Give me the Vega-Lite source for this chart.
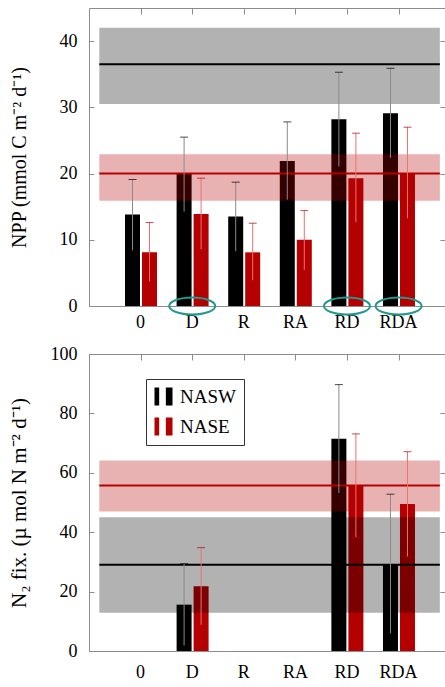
{
  "$schema": "https://vega.github.io/schema/vega-lite/v6.json",
  "padding": {"left": 7, "top": 7, "right": 0, "bottom": 0},
  "spacing": 12,
  "config": {
    "font": "Liberation Serif",
    "view": {"stroke": "#8c8c8c", "strokeWidth": 1},
    "axis": {"labelFont": "Liberation Serif", "titleFont": "Liberation Serif", "labelFontSize": 18, "titleFontSize": 20, "labelColor": "#000", "titleColor": "#000", "titleFontWeight": "normal", "grid": false, "domain": false, "tickColor": "#8c8c8c"}
  },
  "datasets": {
    "npp": [
      {"cat": "0", "site": "NASW", "mean": 13.8, "lo": 8.35, "hi": 19.1},
      {"cat": "0", "site": "NASE", "mean": 8.1, "lo": 3.65, "hi": 12.6},
      {"cat": "D", "site": "NASW", "mean": 19.95, "lo": 14.2, "hi": 25.5},
      {"cat": "D", "site": "NASE", "mean": 13.9, "lo": 8.5, "hi": 19.3},
      {"cat": "R", "site": "NASW", "mean": 13.5, "lo": 8.2, "hi": 18.7},
      {"cat": "R", "site": "NASE", "mean": 8.1, "lo": 3.85, "hi": 12.5},
      {"cat": "RA", "site": "NASW", "mean": 21.9, "lo": 16.0, "hi": 27.8},
      {"cat": "RA", "site": "NASE", "mean": 10.0, "lo": 5.4, "hi": 14.4},
      {"cat": "RD", "site": "NASW", "mean": 28.2, "lo": 21.0, "hi": 35.3},
      {"cat": "RD", "site": "NASE", "mean": 19.3, "lo": 12.6, "hi": 26.1},
      {"cat": "RDA", "site": "NASW", "mean": 29.1, "lo": 22.3, "hi": 35.9},
      {"cat": "RDA", "site": "NASE", "mean": 20.1, "lo": 13.2, "hi": 27.0}
    ],
    "n2": [
      {"cat": "D", "site": "NASW", "mean": 15.6, "lo": 1.7, "hi": 29.4},
      {"cat": "D", "site": "NASE", "mean": 21.8, "lo": 8.7, "hi": 34.8},
      {"cat": "RD", "site": "NASW", "mean": 71.5, "lo": 53.0, "hi": 89.7},
      {"cat": "RD", "site": "NASE", "mean": 55.7, "lo": 38.2, "hi": 73.1},
      {"cat": "RDA", "site": "NASW", "mean": 29.3, "lo": 5.75, "hi": 52.8},
      {"cat": "RDA", "site": "NASE", "mean": 49.5, "lo": 31.7, "hi": 67.1}
    ],
    "npp_ref": [
      {"site": "NASW", "mean": 36.5, "lo": 30.5, "hi": 42.0},
      {"site": "NASE", "mean": 20.0, "lo": 15.9, "hi": 22.9}
    ],
    "n2_ref": [
      {"site": "NASW", "mean": 29.0, "lo": 12.9, "hi": 45.0},
      {"site": "NASE", "mean": 55.7, "lo": 47.0, "hi": 64.1}
    ],
    "marked": [
      {"cat": "D"}, {"cat": "RD"}, {"cat": "RDA"}
    ]
  },
  "vconcat": [
    {
      "width": 356,
      "height": 298,
      "resolve": {"scale": {"x": "independent", "y": "independent"}},
      "layer": [
        {
          "data": {"name": "npp"},
          "mark": {"type": "bar"},
          "encoding": {
            "x": {"field": "cat", "type": "nominal", "sort": null, "scale": {"domain": ["0", "D", "R", "RA", "RD", "RDA"], "paddingInner": 0, "paddingOuter": 0.45, "align": 0.556, "round": false}, "axis": {"orient": "bottom", "ticks": false, "labelAngle": 0, "labelPadding": 7, "title": null}},
            "xOffset": {"field": "site", "type": "nominal", "sort": null, "scale": {"domain": ["NASW", "NASE"], "paddingInner": 0.118, "paddingOuter": 0.576, "align": 0.52}},
            "y": {"field": "mean", "type": "quantitative", "scale": {"domain": [0, 45], "nice": false}, "axis": {"orient": "left", "values": [0, 10, 20, 30, 40], "tickSize": -5, "labelPadding": 17, "title": "NPP (mmol C m⁻² d⁻¹)", "titleX": -60, "titleBaseline": "bottom", "titleAngle": 270}},
            "color": {"field": "site", "type": "nominal", "scale": {"domain": ["NASW", "NASE"], "range": ["#000000", "#b40000"]}, "legend": null}
          }
        },
        {
          "data": {"name": "npp_ref"},
          "layer": [
            {
              "mark": {"type": "rect", "fillOpacity": 0.3},
              "encoding": {
                "x": {"datum": 0.2, "type": "quantitative", "scale": {"domain": [0, 6.9], "nice": false, "zero": false}, "axis": {"orient": "top", "values": [1, 2, 3, 4, 5, 6], "labels": false, "tickSize": -6, "title": null}},
                "x2": {"datum": 6.8},
                "y": {"field": "lo", "type": "quantitative", "scale": {"domain": [0, 45], "nice": false}, "axis": {"orient": "right", "values": [0, 10, 20, 30, 40], "labels": false, "tickSize": -5, "title": null}},
                "y2": {"field": "hi"},
                "color": {"field": "site", "type": "nominal", "legend": null}
              }
            },
            {
              "mark": {"type": "rule", "strokeWidth": 2},
              "encoding": {
                "x": {"datum": 0.2, "type": "quantitative"},
                "x2": {"datum": 6.8},
                "y": {"field": "mean", "type": "quantitative"},
                "color": {"field": "site", "type": "nominal", "legend": null}
              }
            }
          ]
        },
        {
          "layer": [
            {
              "data": {"name": "npp"},
              "mark": {"type": "rule", "strokeWidth": 1},
              "encoding": {
                "x": {"field": "cat", "type": "nominal", "sort": null, "scale": {"domain": ["0", "D", "R", "RA", "RD", "RDA"], "paddingInner": 0, "paddingOuter": 0.45, "align": 0.556, "round": false}, "axis": null},
                "xOffset": {"field": "site", "type": "nominal", "sort": null, "scale": {"domain": ["NASW", "NASE"], "paddingInner": 0.118, "paddingOuter": 0.576, "align": 0.52}},
                "y": {"field": "lo", "type": "quantitative", "scale": {"domain": [0, 45], "nice": false}, "axis": null},
                "y2": {"field": "hi"},
                "stroke": {"field": "site", "type": "nominal", "scale": {"domain": ["NASW", "NASE"], "range": ["#8a8a8a", "#f07070"]}, "legend": null}
              }
            },
            {
              "data": {"name": "npp"},
              "mark": {"type": "tick", "size": 8, "thickness": 1},
              "encoding": {
                "x": {"field": "cat", "type": "nominal", "sort": null},
                "xOffset": {"field": "site", "type": "nominal", "sort": null},
                "y": {"field": "lo", "type": "quantitative"},
                "color": {"field": "site", "type": "nominal", "scale": {"domain": ["NASW", "NASE"], "range": ["#8a8a8a", "#f07070"]}, "legend": null}
              }
            },
            {
              "data": {"name": "npp"},
              "mark": {"type": "tick", "size": 8, "thickness": 1},
              "encoding": {
                "x": {"field": "cat", "type": "nominal", "sort": null},
                "xOffset": {"field": "site", "type": "nominal", "sort": null},
                "y": {"field": "hi", "type": "quantitative"},
                "color": {"field": "site", "type": "nominal", "legend": null}
              }
            },
            {
              "data": {"name": "marked"},
              "mark": {"type": "point", "shape": "M-1,0A1,0.37 0 1,1 1,0A1,0.37 0 1,1 -1,0Z", "size": 2116, "filled": false, "stroke": "#21998e", "strokeWidth": 2, "opacity": 1},
              "encoding": {
                "x": {"field": "cat", "type": "nominal", "sort": null},
                "y": {"datum": 0, "type": "quantitative"}
              }
            }
          ]
        }
      ]
    },
    {
      "width": 356,
      "height": 297,
      "resolve": {"scale": {"x": "independent", "y": "independent"}},
      "layer": [
        {
          "data": {"name": "n2"},
          "mark": {"type": "bar"},
          "encoding": {
            "x": {"field": "cat", "type": "nominal", "sort": null, "scale": {"domain": ["0", "D", "R", "RA", "RD", "RDA"], "paddingInner": 0, "paddingOuter": 0.45, "align": 0.556, "round": false}, "axis": {"orient": "bottom", "ticks": false, "labelAngle": 0, "labelPadding": 12, "title": null}},
            "xOffset": {"field": "site", "type": "nominal", "sort": null, "scale": {"domain": ["NASW", "NASE"], "paddingInner": 0.118, "paddingOuter": 0.576, "align": 0.52}},
            "y": {"field": "mean", "type": "quantitative", "scale": {"domain": [0, 100], "nice": false}, "axis": {"orient": "left", "values": [0, 20, 40, 60, 80, 100], "tickSize": -5, "labelPadding": 17, "title": "N₂ fix. (µ mol N m⁻² d⁻¹)", "titleX": -60, "titleBaseline": "bottom", "titleAngle": 270, "titleFontSize": 21}},
            "color": {"field": "site", "type": "nominal", "scale": {"domain": ["NASW", "NASE"], "range": ["#000000", "#b40000"]}, "legend": {"orient": "none", "legendX": 57, "legendY": 25, "title": null, "symbolType": "M-1,-1H-0.48V1H-1Z M0.26,-1H1V1H0.26Z", "symbolSize": 324, "symbolStrokeWidth": 0, "symbolOpacity": 1, "labelFont": "Liberation Serif", "labelFontSize": 19, "labelColor": "#000", "strokeColor": "#333333", "fillColor": "#ffffff", "padding": 8, "rowPadding": 10, "labelOffset": 7}}
          }
        },
        {
          "data": {"name": "n2_ref"},
          "layer": [
            {
              "mark": {"type": "rect", "fillOpacity": 0.3},
              "encoding": {
                "x": {"datum": 0.2, "type": "quantitative", "scale": {"domain": [0, 6.9], "nice": false, "zero": false}, "axis": {"orient": "top", "values": [1, 2, 3, 4, 5, 6], "labels": false, "tickSize": -6, "title": null}},
                "x2": {"datum": 6.8},
                "y": {"field": "lo", "type": "quantitative", "scale": {"domain": [0, 100], "nice": false}, "axis": {"orient": "right", "values": [0, 20, 40, 60, 80, 100], "labels": false, "tickSize": -5, "title": null}},
                "y2": {"field": "hi"},
                "color": {"field": "site", "type": "nominal", "legend": null}
              }
            },
            {
              "mark": {"type": "rule", "strokeWidth": 2},
              "encoding": {
                "x": {"datum": 0.2, "type": "quantitative"},
                "x2": {"datum": 6.8},
                "y": {"field": "mean", "type": "quantitative"},
                "color": {"field": "site", "type": "nominal", "legend": null}
              }
            }
          ]
        },
        {
          "data": {"name": "n2"},
          "layer": [
            {
              "mark": {"type": "rule", "strokeWidth": 1},
              "encoding": {
                "x": {"field": "cat", "type": "nominal", "sort": null, "scale": {"domain": ["0", "D", "R", "RA", "RD", "RDA"], "paddingInner": 0, "paddingOuter": 0.45, "align": 0.556, "round": false}, "axis": null},
                "xOffset": {"field": "site", "type": "nominal", "sort": null, "scale": {"domain": ["NASW", "NASE"], "paddingInner": 0.118, "paddingOuter": 0.576, "align": 0.52}},
                "y": {"field": "lo", "type": "quantitative", "scale": {"domain": [0, 100], "nice": false}, "axis": null},
                "y2": {"field": "hi"},
                "stroke": {"field": "site", "type": "nominal", "scale": {"domain": ["NASW", "NASE"], "range": ["#8a8a8a", "#f07070"]}, "legend": null}
              }
            },
            {
              "mark": {"type": "tick", "size": 8, "thickness": 1},
              "encoding": {
                "x": {"field": "cat", "type": "nominal", "sort": null},
                "xOffset": {"field": "site", "type": "nominal", "sort": null},
                "y": {"field": "lo", "type": "quantitative"},
                "color": {"field": "site", "type": "nominal", "scale": {"domain": ["NASW", "NASE"], "range": ["#8a8a8a", "#f07070"]}, "legend": null}
              }
            },
            {
              "mark": {"type": "tick", "size": 8, "thickness": 1},
              "encoding": {
                "x": {"field": "cat", "type": "nominal", "sort": null},
                "xOffset": {"field": "site", "type": "nominal", "sort": null},
                "y": {"field": "hi", "type": "quantitative"},
                "color": {"field": "site", "type": "nominal", "legend": null}
              }
            }
          ]
        }
      ]
    }
  ],
  "resolve": {"scale": {"color": "independent", "stroke": "independent"}, "legend": {"color": "independent"}}
}
